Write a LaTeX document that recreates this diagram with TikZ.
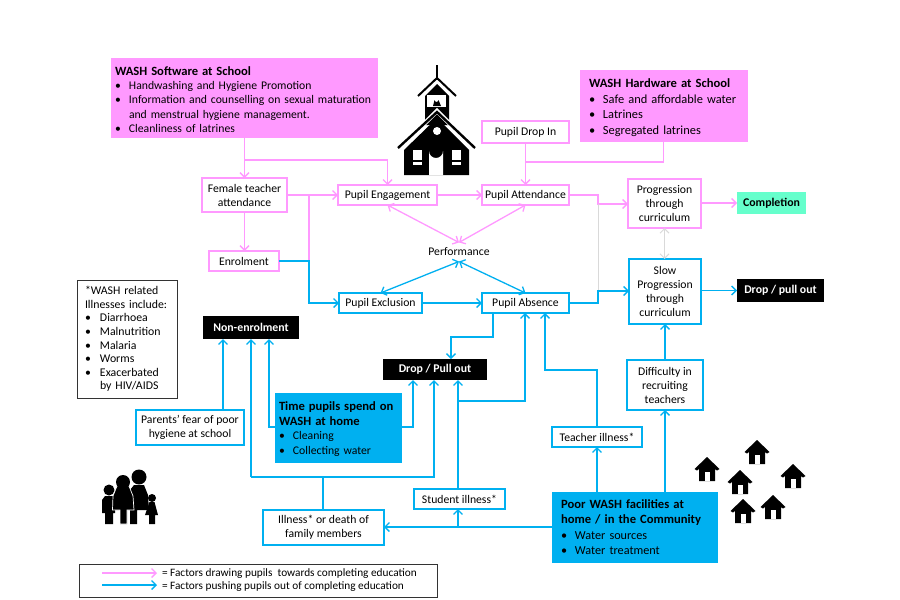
\documentclass[tikz,border=0pt]{standalone}
\usepackage{fontspec}
\setmainfont{Carlito}
\usepackage{xcolor}
\definecolor{washpink}{HTML}{FF99FF}
\definecolor{washblue}{HTML}{00B0F0}
\definecolor{washteal}{HTML}{66FFCC}
\definecolor{washgrey}{HTML}{D9D9D9}
\usetikzlibrary{arrows.meta}
\newcommand{\blt}[1]{\makebox[14pt][l]{\textbullet}#1}
\newcommand{\ttl}[1]{{\fontsize{12.6}{14}\selectfont\textbf{#1}}}
\tikzset{
  >={Straight Barb[length=4.5pt,width=9pt]},
  every node/.style={font=\fontsize{11.7}{14}\selectfont,align=center,outer sep=0pt,inner sep=1pt},
  pinkbox/.style={draw=washpink,line width=1.3pt,fill=white},
  bluebox/.style={draw=washblue,line width=1.2pt,fill=white},
  softbox/.style={fill=washpink,draw=washpink,line width=0.6pt,align=left},
  cyanbox/.style={fill=washblue,draw=washblue,line width=0.6pt,align=left},
  blackbox/.style={fill=black,text=white,font=\fontsize{11.8}{14}\selectfont\bfseries},
  pinkline/.style={draw=washpink,line width=1.3pt},
  blueline/.style={draw=washblue,line width=1.3pt},
  greyline/.style={draw=washgrey,line width=1pt},
  homeicon/.pic={
    \fill[black] (-12.5,0) -- (0,-12) -- (12.5,0) -- (10,1.5) -- (8,0) -- (8,12) -- (-8,12) -- (-8,0) -- (-10,1.5) -- cycle;
    \fill[white] (-2.5,3) rectangle (2.5,12);
  }
}
\begin{document}
\begin{tikzpicture}[x=1pt,y=-1pt]
  \useasboundingbox[fill=white] (0,0) rectangle (900,600);

  % pink side
  \node[softbox,minimum width=266pt,minimum height=79pt,text width=258pt,inner xsep=4pt,
        font=\fontsize{11.7}{14.4}\selectfont] (software) at (244,97.5) {
    \rule{0pt}{13pt}\ttl{WASH Software at School}\\
    \blt{Handwashing and Hygiene Promotion}\\
    \blt{Information and counselling on sexual maturation}\\
    \hspace*{14pt}and menstrual hygiene management.\\
    \blt{Cleanliness of latrines}};
  \node[softbox,minimum width=167pt,minimum height=71pt,text width=149pt,inner xsep=9pt,
        font=\fontsize{12.4}{15.5}\selectfont] (hardware) at (663.5,105.5) {
    \rule{0pt}{13pt}\ttl{WASH Hardware at School}\\
    \blt{Safe and affordable water}\\
    \blt{Latrines}\\
    \blt{Segregated latrines}};
  \node[pinkbox,minimum width=85pt,minimum height=34pt] (female) at (244.5,195) {Female teacher\\attendance};
  \node[pinkbox,minimum width=99pt,minimum height=20pt] (engage) at (387.5,195) {Pupil Engagement};
  \node[pinkbox,minimum width=70pt,minimum height=20pt] (enrol) at (244,261) {Enrolment};
  \node[pinkbox,minimum width=87pt,minimum height=22pt] (dropin) at (525.5,132) {Pupil Drop In};
  \node[pinkbox,minimum width=87pt,minimum height=20pt] (attend) at (525.5,195) {Pupil Attendance};
  \node[pinkbox,minimum width=73pt,minimum height=49pt] (progress) at (664.5,203.5) {Progression\\through\\curriculum};
  \node[fill=washteal,minimum width=69pt,minimum height=22pt,font=\fontsize{11.8}{14}\selectfont\bfseries] (completion) at (771.5,203) {Completion};
  \node[minimum height=19pt] (perform) at (459,252) {Performance};

  % blue side
  \node[bluebox,minimum width=72pt,minimum height=65pt] (slow) at (665,291.5) {Slow\\Progression\\through\\curriculum};
  \node[blackbox,minimum width=87pt,minimum height=23pt] (dropright) at (780.5,290.5) {Drop / pull out};
  \node[bluebox,minimum width=87pt,minimum height=20pt] (absence) at (525.5,303) {Pupil Absence};
  \node[bluebox,minimum width=83pt,minimum height=20pt] (exclusion) at (380.5,303) {Pupil Exclusion};
  \node[blackbox,minimum width=96pt,minimum height=23pt] (nonenrol) at (251,327.5) {Non-enrolment};
  \node[blackbox,minimum width=104pt,minimum height=21pt] (dropmid) at (435,369.5) {Drop / Pull out};
  \node[bluebox,minimum width=108pt,minimum height=35pt] (parents) at (190,427.5) {Parents’ fear of poor\\hygiene at school};
  \node[cyanbox,minimum width=126pt,minimum height=69pt,text width=118pt,inner xsep=4pt,
        font=\fontsize{11.7}{14.7}\selectfont] (timebox) at (338,427.5) {
    \rule{0pt}{12pt}\ttl{Time pupils spend on}\\
    \ttl{WASH at home}\\
    \blt{Cleaning}\\
    \blt{Collecting water}};
  \node[bluebox,minimum width=121pt,minimum height=35pt] (illness) at (323.5,527.5) {Illness* or death of\\family members};
  \node[bluebox,minimum width=91pt,minimum height=20pt] (student) at (459.5,499) {Student illness*};
  \node[bluebox,minimum width=90pt,minimum height=20pt] (teacher) at (597,437) {Teacher illness*};
  \node[bluebox,minimum width=76pt,minimum height=50pt] (difficulty) at (665,385) {Difficulty in\\recruiting\\teachers};
  \node[cyanbox,minimum width=165pt,minimum height=70pt,text width=147pt,inner xsep=9pt,
        font=\fontsize{12.2}{15.5}\selectfont] (poor) at (634.5,527) {
    \ttl{Poor WASH facilities at}\\
    \ttl{home / in the Community}\\
    \blt{Water sources}\\
    \blt{Water treatment}};

  % illness note and legend
  \node[draw=black!80,line width=0.8pt,minimum width=100pt,minimum height=118pt,text width=84pt,inner xsep=8pt,align=left,
        font=\fontsize{11.8}{13.6}\selectfont] (note) at (127,339) {
    *WASH related\\
    Illnesses include:\\
    \makebox[15pt][l]{\textbullet}Diarrhoea\\
    \makebox[15pt][l]{\textbullet}Malnutrition\\
    \makebox[15pt][l]{\textbullet}Malaria\\
    \makebox[15pt][l]{\textbullet}Worms\\
    \makebox[15pt][l]{\textbullet}Exacerbated\\
    \hspace*{15pt}by HIV/AIDS};
  \node[draw=black!80,line width=1pt,minimum width=358pt,minimum height=33pt] (legend) at (258,580.5) {};
  \node[anchor=west,inner sep=0pt,font=\fontsize{11.3}{13}\selectfont] (legendpink) at (162,573.5) {= Factors drawing pupils\ \ towards completing education};
  \node[anchor=west,inner sep=0pt,font=\fontsize{11.3}{13}\selectfont] (legendblue) at (162,587) {= Factors pushing pupils out of completing education};
  \coordinate (lpa) at (102,573);
  \coordinate (lpb) at (157,573);
  \coordinate (lba) at (102,585);
  \coordinate (lbb) at (157,585);
  \draw[pinkline,->] (lpa) -- (lpb);
  \draw[blueline,->] (lba) -- (lbb);

  % tap points on the connectors
  \coordinate (swtap) at (244,160);
  \coordinate (hwtap) at (525.5,162);
  \coordinate (enroltap) at (309,261);
  \coordinate (femtap) at (309,195);
  \coordinate (midtap) at (598,204);
  \coordinate (midlow) at (598,291);
  \coordinate (abstap) at (493,337);
  \coordinate (studtap) at (458,401);
  \coordinate (absin) at (525,401);
  \coordinate (teachin) at (545,370);
  \coordinate (teachup) at (597,370);
  \coordinate (poortap) at (458,527);
  \coordinate (familyleft) at (251,477);
  \coordinate (familymid) at (323,477);
  \coordinate (familyright) at (434,477);
  \coordinate (timeleft) at (269,427);
  \coordinate (timeright) at (413,427);

  % pink connectors
  \draw[pinkline,->] (software.south -| female.north) -- (female.north);
  \draw[pinkline,->] (swtap) -- (swtap -| engage.north) -- (engage.north);
  \draw[pinkline,->] (female.east |- engage.west) -- (engage.west);
  \draw[pinkline,->] (female.south) -- (enrol.north -| female.south);
  \draw[pinkline] (femtap) -- (enroltap);
  \draw[pinkline,->] (engage.east) -- (attend.west);
  \draw[pinkline,<->] (engage.south) -- (perform.north);
  \draw[pinkline,<->] (attend.south) -- (perform.north);
  \draw[pinkline,->] (dropin.south) -- (attend.north);
  \draw[pinkline] (hardware.south) -- (hardware.south |- hwtap) -- (hwtap);
  \draw[pinkline,->] (attend.east) -- (attend.east -| midtap) -- (midtap) -- (progress.west |- midtap);
  \draw[pinkline,->] (progress.east |- completion.west) -- (completion.west);
  % grey connectors
  \draw[greyline] (midtap) -- (midlow);
  \draw[greyline,<->] (progress.south) -- (slow.north -| progress.south);

  % blue connectors
  \draw[blueline,->] (enrol.east) -- (enroltap) -- (enroltap |- exclusion.west) -- (exclusion.west);
  \draw[blueline,<->] (exclusion.north) -- (perform.south);
  \draw[blueline,<->] (absence.north) -- (perform.south);
  \draw[blueline,->] (exclusion.east) -- (absence.west);
  \draw[blueline,->] (absence.east) -- (absence.east -| midlow) -- (midlow) -- (slow.west |- midlow);
  \draw[blueline,->] (slow.east |- dropright.west) -- (dropright.west);
  \draw[blueline,->] (abstap |- absence.south) -- (abstap) -- (abstap -| 451,0) -- (451,359);
  \draw[blueline,->] (studtap) -- (absin) -- (absin |- absence.south);
  \draw[blueline,->] (teacher.north) -- (teachup) -- (teachin) -- (teachin |- absence.south);
  \draw[blueline,->] (poor.north -| teacher.north) -- (teacher.south);
  \draw[blueline,->] (difficulty.south |- poor.north) -- (difficulty.south);
  \draw[blueline,->] (difficulty.north) -- (slow.south -| difficulty.north);
  \draw[blueline,->] (student.north -| poortap) -- (poortap |- dropmid.south);
  \draw[blueline,->] (poor.west) -- (poor.west -| illness.east);
  \draw[blueline,->] (poortap) -- (poortap |- student.south);
  \draw[blueline] (familymid |- illness.north) -- (familymid);
  \draw[blueline,->] (familyleft) -- (familyright) -- (familyright |- dropmid.south);
  \draw[blueline,->] (familyleft) -- (familyleft |- nonenrol.south);
  \draw[blueline,->] (parents.north -| 223,0) -- (223,339);
  \draw[blueline,->] (timebox.west |- timeleft) -- (timeleft) -- (timeleft |- nonenrol.south);
  \draw[blueline,->] (timebox.east |- timeright) -- (timeright) -- (timeright |- dropmid.south);

  % school
  \draw[black,line width=1.4pt] (437,65) -- (437,80);
  \draw[black,line width=2pt] (418,96) -- (437,78) -- (456,96);
  \fill[black] (425,96) -- (437,84) -- (449,96) -- (449,125) -- (425,125) -- cycle;
  \fill[white] (427,95) rectangle (446,107);
  \fill[black] (433,106) -- (434.5,100) arc (180:0:2) -- (441,106) -- cycle;
  \draw[white,line width=4.5pt] (398,150) -- (437,111) -- (476,150);
  \draw[black,line width=2.4pt] (398,148) -- (437,112) -- (475,148);
  \fill[black] (437,118) -- (469,150) -- (469,175) -- (404,175) -- (404,150) -- cycle;
  \fill[white] (437,131) circle (4);
  \fill[white] (429,175) -- (429,151) arc (180:0:7) -- (443,175) -- cycle;
  \fill[white] (413,150) rectangle (422,160);
  \fill[white] (413,162) rectangle (422,165);
  \fill[white] (452,150) rectangle (461,160);
  \fill[white] (452,162) rectangle (461,165);

  % family
  \fill[black] (139,477) circle (7.5);
  \fill[black] (130,490) -- (134,485) -- (144,485) -- (148,495) -- (149,510) -- (137,510) -- (137,524) -- (130,524) -- cycle;
  \fill[black] (109,490) circle (5.5);
  \fill[black] (105,496) -- (113,496) -- (115,500) -- (115,513) -- (113,513) -- (113,524) -- (105,524) -- (105,513) -- (102,513) -- (102,500) -- cycle;
  \draw[white,line width=0.7pt,fill=black] (117,486) -- (129,486) -- (133,496) -- (134,510) -- (127,510) -- (127,524) -- (120,524) -- (120,510) -- (112.5,510) -- (113,496) -- cycle;
  \fill[black] (123,482) circle (7);
  \fill[black] (152,498) circle (4);
  \fill[black] (149.5,502) -- (154.5,502) -- (158,515) -- (155,515) -- (155,524) -- (149,524) -- (149,515) -- (145,515) -- cycle;

  % houses
  \foreach \hx/\hy in {707/469,757/452,740/482,793/476,743/511,773/507}
    \pic at (\hx,\hy) {homeicon};
\end{tikzpicture}
\end{document}
